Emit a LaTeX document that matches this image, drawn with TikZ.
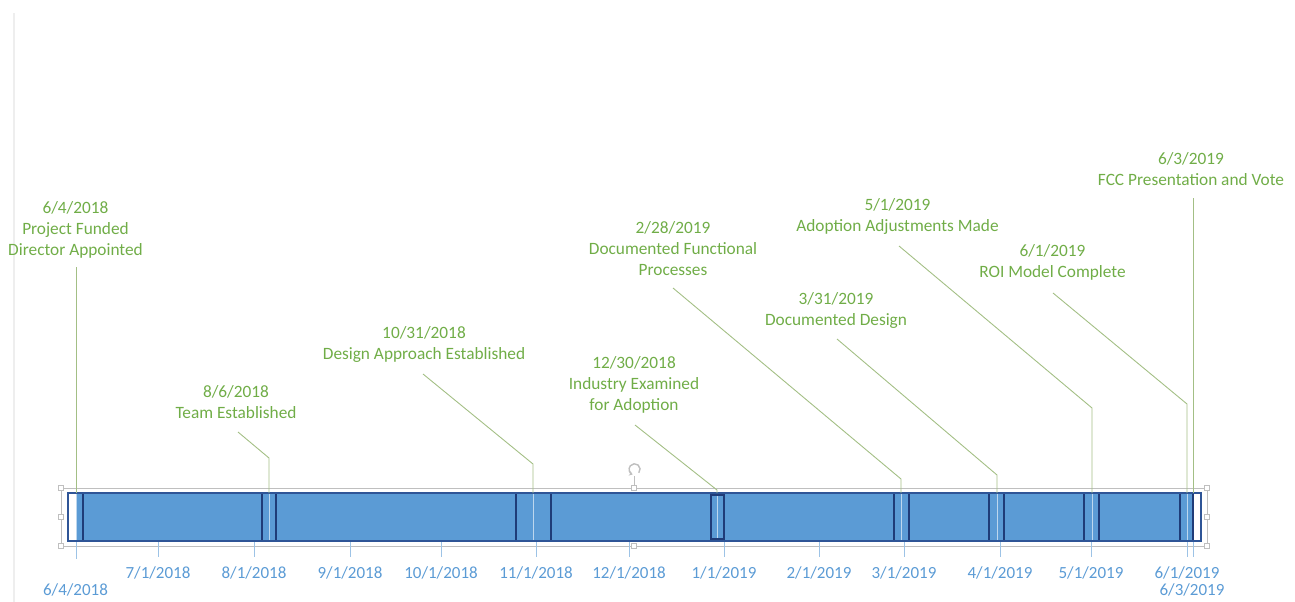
\documentclass[tikz,border=0pt]{standalone}
\usepackage{fontspec}
\setmainfont{Carlito}
\usetikzlibrary{calc,arrows.meta}
\definecolor{barblue}{HTML}{5B9BD5}
\definecolor{bardark}{HTML}{2F5597}
\definecolor{mkdark}{HTML}{1F3C78}
\definecolor{mklight}{HTML}{BDD7EE}
\definecolor{msgreen}{HTML}{70AD47}
\definecolor{leadgreen}{HTML}{A3BF85}
\definecolor{axisblue}{HTML}{5B9BD5}
\definecolor{tickblue}{HTML}{9DC3E6}
\definecolor{selgrey}{HTML}{BFBFBF}
\definecolor{pagegrey}{HTML}{EEEEEE}
\begin{document}
\begin{tikzpicture}[x=1pt,y=-1pt,
  mslabel/.style={font=\fontsize{17.3}{21}\selectfont, text=msgreen, align=center, inner sep=0pt},
  axlabel/.style={font=\fontsize{17}{20}\selectfont, text=axisblue, inner sep=0pt},
  leader/.style={draw=leadgreen, line width=0.9pt},
  tickmark/.style={draw=tickblue, line width=1pt},
  darkmk/.style={draw=mkdark, line width=1.5pt},
  lightmk/.style={draw=mklight, line width=1pt},
  handle/.style={draw=selgrey, fill=white, line width=0.8pt, minimum size=5pt, inner sep=0pt, rectangle},
  barbox/.style={draw=bardark, fill=barblue, line width=1.5pt, minimum width=1133pt, minimum height=48pt, inner sep=0pt},
]
\useasboundingbox (0,0) rectangle (1295,602);
% page edge
\draw[pagegrey, line width=1.2pt] (14,13) -- (14,602);

% selection frame
\draw[selgrey, line width=0.8pt] (61,488) rectangle (1207,546);
\draw[selgrey, line width=0.8pt] (634,476) -- (634,488);
\draw[selgrey, line width=1.4pt, -{Stealth[length=3.5pt,width=5pt]}] (638.8,472.8) arc[start angle=-40, end angle=250, radius=5.5pt];

% bar
\node[barbox] (bar) at (634.5,517) {};
\fill[white] (68.8,493.8) rectangle (76,540.2);
\fill[white] (1194,493.8) rectangle (1200.2,540.2);
\draw[bardark, line width=1.5pt] (68,493) rectangle (1201,541);

% milestone markers inside the bar
\draw[lightmk] (76,494) -- (76,540);
\draw[darkmk] (83,494) -- (83,540);
\foreach \l/\m/\r in {262/269/276, 516/533/551, 894/901/909, 989/997/1004, 1084/1092/1099}{
  \draw[darkmk] (\l,494) -- (\l,540);
  \draw[darkmk] (\r,494) -- (\r,540);
  \draw[lightmk] (\m,494) -- (\m,540);
}
\draw[mkdark, line width=2.5pt] (711,495) rectangle (724,539);
\draw[lightmk] (717,496) -- (717,538);
\draw[darkmk] (1180,494) -- (1180,540);
\draw[lightmk] (1187,494) -- (1187,540);
\draw[mkdark, line width=2.5pt] (1193,494) -- (1193,540);

% selection handles
\foreach \hx/\hy/\hn in {61/488/h1, 61/517/h2, 61/546/h3, 1207/488/h4, 1207/517/h5, 1207/546/h6, 634/488/h7, 634/546/h8}{
  \node[handle] (\hn) at (\hx,\hy) {};
}

% bar-top anchor points of the milestones
\coordinate (b1) at (76,493);
\coordinate (b2) at (269,493);
\coordinate (b3) at (533,493);
\coordinate (b4) at (717,493);
\coordinate (b5) at (901,493);
\coordinate (b6) at (997,493);
\coordinate (b7) at (1092,493);
\coordinate (b8) at (1187,493);
\coordinate (b9) at (1193,493);

% milestone labels
\node[mslabel] (m1) at (75.5,230) {6/4/2018\\Project Funded\\Director Appointed};
\node[mslabel] (m2) at (236,402.5) {8/6/2018\\Team Established};
\node[mslabel] (m3) at (424,344.5) {10/31/2018\\Design Approach Established};
\node[mslabel] (m4) at (634,385) {12/30/2018\\Industry Examined\\for Adoption};
\node[mslabel] (m5) at (673,249) {2/28/2019\\Documented Functional\\Processes};
\node[mslabel] (m6) at (836,310) {3/31/2019\\Documented Design};
\node[mslabel] (m7) at (897.5,216.5) {5/1/2019\\Adoption Adjustments Made};
\node[mslabel] (m8) at (1052.5,262.5) {6/1/2019\\ROI Model Complete};
\node[mslabel] (m9) at (1191,169.5) {6/3/2019\\FCC Presentation and Vote};

% leader lines
\draw[leader] (b1 |- 0,267) -- (b1);
\draw[leader] (238,432) -- (269,458) -- (b2);
\draw[leader] (423,374) -- (533,464) -- (b3);
\draw[leader] (635,425) -- (717,490) -- (b4);
\draw[leader] (673,288) -- (901,479) -- (b5);
\draw[leader] (837,339) -- (997,475) -- (b6);
\draw[leader] (899,246) -- (1092,408) -- (b7);
\draw[leader] (1053,293) -- (1187,404) -- (b8);
\draw[leader] (b9 |- 0,198) -- (b9);

% axis ticks and labels
\foreach \tx/\tl/\tn in {158/7\slash 1\slash 2018/a2, 254/8\slash 1\slash 2018/a3, 350/9\slash 1\slash 2018/a4, 441/10\slash 1\slash 2018/a5, 536/11\slash 1\slash 2018/a6, 629/12\slash 1\slash 2018/a7, 724/1\slash 1\slash 2019/a8, 819/2\slash 1\slash 2019/a9, 904/3\slash 1\slash 2019/a10, 1000/4\slash 1\slash 2019/a11, 1091/5\slash 1\slash 2019/a12, 1187/6\slash 1\slash 2019/a13}{
  \draw[tickmark] (\tx,542) -- (\tx,557);
  \node[axlabel] (\tn) at (\tx,573) {\tl};
}
\draw[tickmark] (76,542) -- (76,559);
\node[axlabel] (a1) at (75.5,590) {6/4/2018};
\draw[tickmark] (1193,542) -- (1193,557);
\node[axlabel] (a14) at (1192,590) {6/3/2019};
\end{tikzpicture}
\end{document}
